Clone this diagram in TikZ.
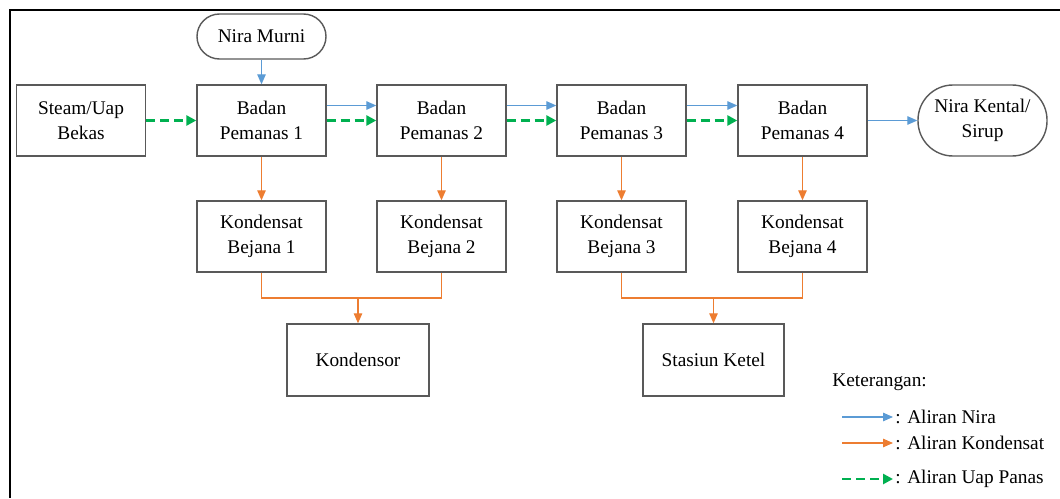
\documentclass[tikz,border=0pt]{standalone}
\usepackage{fontspec}
\setmainfont{LiberationSerif}[Extension=.ttf,UprightFont=*-Regular,BoldFont=*-Bold]
\usepackage{xcolor}
\usetikzlibrary{positioning,arrows.meta}
\definecolor{nblue}{HTML}{5B9BD5}
\definecolor{norange}{HTML}{ED7D31}
\definecolor{ngreen}{HTML}{00B050}
\definecolor{nframe}{HTML}{595959}

\begin{document}
\begin{tikzpicture}[font=\fontsize{11}{14}\selectfont,
  bx/.style={rectangle,draw=nframe,line width=0.8pt,align=center,inner sep=2pt,minimum width=2.58cm,minimum height=1.42cm},
  term/.style={bx,rounded corners=0.45cm,minimum height=0.9cm},
  ab/.style={-{Triangle[length=2mm,width=1.7mm]},nblue,line width=0.7pt},
  ao/.style={-{Triangle[length=2mm,width=1.7mm]},norange,line width=0.7pt},
  lo/.style={norange,line width=0.7pt},
  ag/.style={-{Triangle[length=2mm,width=2mm]},ngreen,line width=1.6pt,dash pattern=on 1.8mm off 1mm}]
  \useasboundingbox (0,0) rectangle (21.2,-9.96);
  \draw[line width=1pt] (21.2,-0.2) -- (0.2,-0.2) -- (0.2,-9.96);
  % baris atas
  \node[bx] (steam) at (1.62,-2.41) {Steam/Uap\\Bekas};
  \node[term] (murni) at (5.23,-0.73) {Nira Murni};
  \node[bx] (b1) at (5.23,-2.41) {Badan\\Pemanas 1};
  \node[bx] (b2) at (8.83,-2.41) {Badan\\Pemanas 2};
  \node[bx] (b3) at (12.43,-2.41) {Badan\\Pemanas 3};
  \node[bx] (b4) at (16.05,-2.41) {Badan\\Pemanas 4};
  \node[bx,rounded corners=0.7cm] (kental) at (19.65,-2.41) {Nira Kental/\\Sirup};
  % kondensat
  \node[bx] (k1) at (5.23,-4.73) {Kondensat\\Bejana 1};
  \node[bx] (k2) at (8.83,-4.73) {Kondensat\\Bejana 2};
  \node[bx] (k3) at (12.43,-4.73) {Kondensat\\Bejana 3};
  \node[bx] (k4) at (16.05,-4.73) {Kondensat\\Bejana 4};
  \node[bx,minimum width=2.84cm,minimum height=1.44cm] (kondensor) at (7.16,-7.2) {Kondensor};
  \node[bx,minimum width=2.82cm,minimum height=1.44cm] (ketel) at (14.27,-7.2) {Stasiun Ketel};
  \coordinate (j1) at (7.16,-5.96);
  \coordinate (j2) at (14.27,-5.96);
  % aliran nira
  \draw[ab] (murni) -- (b1);
  \draw[ab] ([yshift=3mm]b1.east) -- ([yshift=3mm]b2.west);
  \draw[ab] ([yshift=3mm]b2.east) -- ([yshift=3mm]b3.west);
  \draw[ab] ([yshift=3mm]b3.east) -- ([yshift=3mm]b4.west);
  \draw[ab] (b4) -- (kental);
  % aliran uap panas
  \draw[ag] (steam) -- (b1);
  \draw[ag] (b1) -- (b2); \draw[ag] (b2) -- (b3); \draw[ag] (b3) -- (b4);
  % aliran kondensat
  \draw[ao] (b1) -- (k1); \draw[ao] (b2) -- (k2);
  \draw[ao] (b3) -- (k3); \draw[ao] (b4) -- (k4);
  \draw[lo] (k1.south) |- (j1) -| (k2.south);
  \draw[lo] (k3.south) |- (j2) -| (k4.south);
  \draw[ao] (j1) -- (kondensor);
  \draw[ao] (j2) -- (ketel);
  % keterangan
  \node[anchor=west,inner sep=0pt] (ket) at (16.64,-7.64) {Keterangan:};
  \coordinate (l1) at (16.84,-8.34);
  \coordinate (l2) at (16.84,-8.86);
  \coordinate (l3) at (16.84,-9.58);
  \node[anchor=west,inner sep=1.2pt] (lnira) at (17.86,-8.34) {: Aliran Nira};
  \node[anchor=west,inner sep=1.2pt] (lkond) at (17.86,-8.86) {: Aliran Kondensat};
  \node[anchor=west,inner sep=1.2pt] (luap) at (17.86,-9.58) {: Aliran Uap Panas};
  \draw[ab] (l1) -- (lnira.west);
  \draw[ao] (l2) -- (lkond.west);
  \draw[ag] (l3) -- (luap.west);
\end{tikzpicture}
\end{document}
